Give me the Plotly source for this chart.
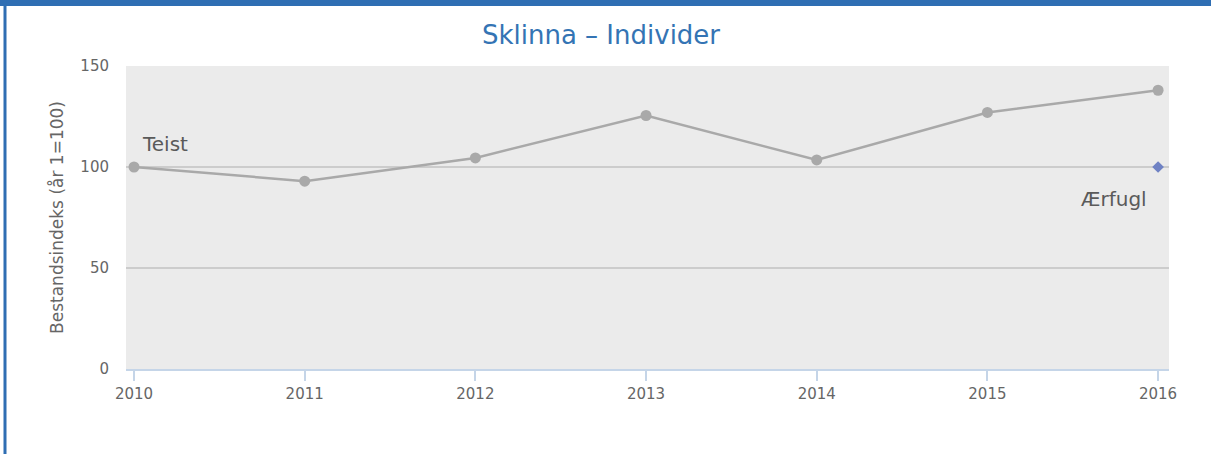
import plotly.graph_objects as go

years = [2010, 2011, 2012, 2013, 2014, 2015, 2016]
teist = [100, 93, 104.5, 125.5, 103.5, 127, 138]
aerfugl_years = [2016]
aerfugl = [100]

W, H = 1211, 454
L, R, T, B = 126, 42, 66, 85
pw, ph = W - L - R, H - T - B
FONT = "DejaVu Sans, Verdana, sans-serif"


def px(x):
    return (x - L) / pw


def py(y):
    return (H - B - y) / ph


fig = go.Figure()

fig.add_trace(go.Scatter(
    x=years, y=teist, mode="lines+markers", name="Teist",
    line=dict(color="#a9a9a9", width=2.5),
    marker=dict(color="#a9a9a9", size=11),
    hoverinfo="x+y"
))

fig.add_trace(go.Scatter(
    x=aerfugl_years, y=aerfugl, mode="markers", name="Ærfugl",
    marker=dict(color="#6f82c4", size=9, symbol="diamond"),
    hoverinfo="x+y"
))

fig.add_annotation(x=years[0], y=teist[0], text="Teist", showarrow=False,
                   xanchor="left", yanchor="middle", xshift=6, yshift=23,
                   font=dict(size=20, color="#5a5a5a", family=FONT))
fig.add_annotation(x=aerfugl_years[0], y=aerfugl[0], text="Ærfugl", showarrow=False,
                   xanchor="right", yanchor="middle", xshift=-9, yshift=-32,
                   font=dict(size=20, color="#5a5a5a", family=FONT))

# frame round the chart
fig.add_shape(type="rect", xref="paper", yref="paper",
              x0=px(0), x1=px(W + 5), y0=py(0), y1=py(6),
              fillcolor="#2f6eb3", line_width=0, layer="above")
fig.add_shape(type="rect", xref="paper", yref="paper",
              x0=px(3.5), x1=px(6.5), y0=py(0), y1=py(H + 5),
              fillcolor="#2f6eb3", line_width=0, layer="above")

fig.update_layout(
    width=W, height=H,
    margin=dict(l=L, r=R, t=T, b=B),
    paper_bgcolor="white",
    plot_bgcolor="#ebebeb",
    showlegend=False,
    font=dict(family=FONT, color="#666666"),
    title=dict(
        text="Sklinna – Individer",
        x=px(601), xref="paper", xanchor="center",
        y=1 - 35 / H, yanchor="middle",
        font=dict(size=26, color="#3474b4", family=FONT)
    ),
    xaxis=dict(
        range=[2009.953, 2016.064],
        tickvals=years,
        ticktext=[str(y) for y in years],
        showgrid=False, zeroline=False,
        showline=True, linecolor="#c5d5e8", linewidth=1.5,
        ticks="outside", ticklen=10, tickcolor="#c5d5e8", tickwidth=1.5,
        tickfont=dict(size=15, color="#666666")
    ),
    yaxis=dict(
        range=[0, 150],
        tickvals=[0, 50, 100, 150],
        showgrid=True, gridcolor="#cccccc", gridwidth=1.5,
        zeroline=False, showline=False,
        ticks="", ticklabelstandoff=16,
        tickfont=dict(size=15, color="#666666"),
        title=dict(text="Bestandsindeks (år 1=100)", standoff=12,
                   font=dict(size=17, color="#666666"))
    )
)

fig.write_html("out.html", config={"displayModeBar": False},
               post_script="document.body.style.margin='0';")
